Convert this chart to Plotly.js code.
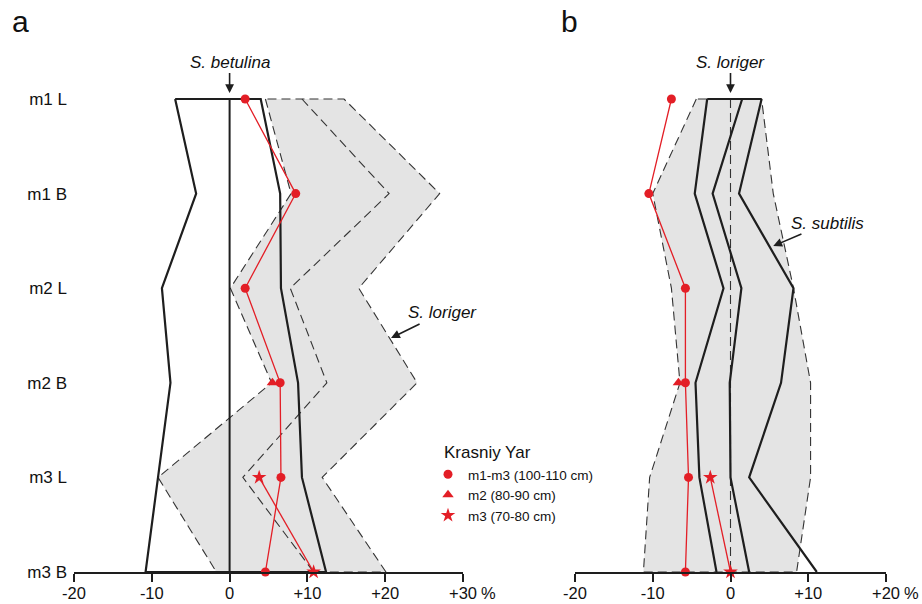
<!DOCTYPE html>
<html>
<head>
<meta charset="utf-8">
<script src="https://cdn.plot.ly/plotly-3.0.1.min.js"></script>
<style>html,body{margin:0;padding:0;background:#fff;}#chart{width:922px;height:604px;}</style>
</head>
<body>
<div id="chart"></div>
<script>
// Row categories (top to bottom)
var rows = ['m1 L', 'm1 B', 'm2 L', 'm2 B', 'm3 L', 'm3 B'];
var rowOrder = ['m3 B', 'm3 L', 'm2 B', 'm2 L', 'm1 B', 'm1 L'];

// Panel a: S. betulina (solid outline, standard = 0)
var betLeft  = [-7.0, -4.3, -8.7, -7.6, -9.2, -10.8];
var betMean  = [0, 0, 0, 0, 0, 0];
var betRight = [4.0, 6.5, 6.6, 8.8, 9.3, 12.4];
// Panel a: S. loriger (dashed, shaded)
var lorLeftA  = [4.6, 7.9, 0.1, 5.4, -9.2, -1.7];
var lorMeanA  = [9.3, 20.5, 7.8, 12.5, 1.7, 10.8];
var lorRightA = [14.7, 27.0, 16.6, 24.1, 11.9, 20.1];
// Panel a: Krasniy Yar
var circA = [2.0, 8.5, 2.0, 6.5, 6.6, 4.6];
var triRows = ['m2 B'];
var triA = [5.5];
var starRows = ['m3 L', 'm3 B'];
var starA = [3.8, 10.8];

// Panel b: S. loriger (dashed, shaded, standard = 0)
var lorLeftB  = [-4.4, -10.0, -7.6, -6.5, -10.4, -11.2];
var lorMeanB  = [0, 0, 0, 0, 0, 0];
var lorRightB = [4.0, 5.5, 8.1, 10.3, 10.3, 8.5];
// Panel b: S. subtilis (solid)
var subLeft  = [-3.0, -4.6, -0.9, -4.5, -4.0, -1.8];
var subMean  = [1.5, -2.3, 1.4, -0.1, 0.0, 2.4];
var subRight = [4.0, 1.1, 8.1, 6.5, 2.4, 11.1];
// Panel b: Krasniy Yar
var circB = [-7.6, -10.5, -5.8, -5.8, -5.4, -5.8];
var triB = [-6.7];
var starB = [-2.6, 0.0];

// Tick labels
var tickValsA = [-20, -10, 0, 10, 20, 30];
var tickTextA = ['-20', '-10', '0', '+10', '+20', '+30'];
var tickValsB = [-20, -10, 0, 10, 20];
var tickTextB = ['-20', '-10', '0', '+10', '+20'];

var RED = '#e31e26';
var BLACK = '#1e1e1e';
var GREY = '#e4e4e4';
var FONT = 'Liberation Sans, Arial, sans-serif';

function band(left, right) {
  return {
    x: left.concat(right.slice().reverse()).concat([left[0]]),
    y: rows.concat(rows.slice().reverse()).concat([rows[0]])
  };
}

var traces = [];
function add(t) { t.hoverinfo = 'skip'; t.cliponaxis = false; traces.push(t); }

// Shaded loriger bands
var bA = band(lorLeftA, lorRightA);
add({x: bA.x, y: bA.y, xaxis: 'x', yaxis: 'y', mode: 'lines', fill: 'toself', fillcolor: GREY,
     line: {color: '#333', width: 1.1, dash: '9px,5px'}, showlegend: false});
var bB = band(lorLeftB, lorRightB);
add({x: bB.x, y: bB.y, xaxis: 'x2', yaxis: 'y2', mode: 'lines', fill: 'toself', fillcolor: GREY,
     line: {color: '#333', width: 1.1, dash: '9px,5px'}, showlegend: false});
// Dashed means
add({x: lorMeanA, y: rows, xaxis: 'x', yaxis: 'y', mode: 'lines',
     line: {color: '#333', width: 1.1, dash: '9px,5px'}, showlegend: false});
add({x: lorMeanB, y: rows, xaxis: 'x2', yaxis: 'y2', mode: 'lines',
     line: {color: '#333', width: 1.1, dash: '9px,5px'}, showlegend: false});
// Solid outlines
var oA = band(betLeft, betRight);
add({x: oA.x, y: oA.y, xaxis: 'x', yaxis: 'y', mode: 'lines',
     line: {color: BLACK, width: 2.2}, showlegend: false});
add({x: betMean, y: rows, xaxis: 'x', yaxis: 'y', mode: 'lines',
     line: {color: BLACK, width: 2}, showlegend: false});
add({x: subLeft, y: rows, xaxis: 'x2', yaxis: 'y2', mode: 'lines',
     line: {color: BLACK, width: 2.2}, showlegend: false});
add({x: subRight, y: rows, xaxis: 'x2', yaxis: 'y2', mode: 'lines',
     line: {color: BLACK, width: 2.2}, showlegend: false});
add({x: [subLeft[0], subRight[0]], y: [rows[0], rows[0]], xaxis: 'x2', yaxis: 'y2', mode: 'lines',
     line: {color: BLACK, width: 2.2}, showlegend: false});
add({x: subMean, y: rows, xaxis: 'x2', yaxis: 'y2', mode: 'lines',
     line: {color: BLACK, width: 2.2}, showlegend: false});

// Red connecting lines
add({x: circA, y: rows, xaxis: 'x', yaxis: 'y', mode: 'lines', line: {color: RED, width: 1.3}, showlegend: false});
add({x: starA, y: starRows, xaxis: 'x', yaxis: 'y', mode: 'lines', line: {color: RED, width: 1.3}, showlegend: false});
add({x: circB, y: rows, xaxis: 'x2', yaxis: 'y2', mode: 'lines', line: {color: RED, width: 1.3}, showlegend: false});
add({x: starB, y: starRows, xaxis: 'x2', yaxis: 'y2', mode: 'lines', line: {color: RED, width: 1.3}, showlegend: false});

// Red markers (legend entries)
add({x: circA, y: rows, xaxis: 'x', yaxis: 'y', mode: 'markers', name: 'm1-m3 (100-110 cm)',
     legendgroup: 'c', marker: {color: RED, size: 9, symbol: 'circle'}});
add({x: triA, y: triRows, xaxis: 'x', yaxis: 'y', mode: 'markers', name: 'm2 (80-90 cm)',
     legendgroup: 't', marker: {color: RED, size: 10, symbol: 'triangle-up'}});
add({x: starA, y: starRows, xaxis: 'x', yaxis: 'y', mode: 'markers', name: 'm3 (70-80 cm)',
     legendgroup: 's', marker: {color: RED, size: 11, symbol: 'star'}});
add({x: circB, y: rows, xaxis: 'x2', yaxis: 'y2', mode: 'markers', legendgroup: 'c', showlegend: false,
     marker: {color: RED, size: 9, symbol: 'circle'}});
add({x: triB, y: triRows, xaxis: 'x2', yaxis: 'y2', mode: 'markers', legendgroup: 't', showlegend: false,
     marker: {color: RED, size: 10, symbol: 'triangle-up'}});
add({x: starB, y: starRows, xaxis: 'x2', yaxis: 'y2', mode: 'markers', legendgroup: 's', showlegend: false,
     marker: {color: RED, size: 11, symbol: 'star'}});

var yTop = (572 - 50) / 94.6;

var xCommon = {
  showline: true, linecolor: BLACK, linewidth: 2, ticks: 'outside', ticklen: 8, tickwidth: 2,
  tickcolor: BLACK, showgrid: false, zeroline: false, tickfont: {size: 16.5, color: '#111', family: FONT},
  ticklabelstandoff: -3, fixedrange: true
};

var layout = {
  width: 922, height: 604,
  margin: {l: 0, r: 0, t: 50, b: 32},
  paper_bgcolor: '#fff', plot_bgcolor: 'rgba(0,0,0,0)',
  font: {family: FONT, color: '#111'},
  xaxis: Object.assign({}, xCommon, {domain: [74/922, 463/922], range: [-20, 30],
         tickvals: tickValsA, ticktext: tickTextA, anchor: 'y'}),
  xaxis2: Object.assign({}, xCommon, {domain: [575/922, 886/922], range: [-20, 20],
         tickvals: tickValsB, ticktext: tickTextB, anchor: 'y2'}),
  yaxis: {type: 'category', categoryarray: rowOrder, categoryorder: 'array', range: [0, yTop],
          showline: false, showgrid: false, zeroline: false, ticks: '', anchor: 'x',
          tickfont: {size: 17, color: '#111', family: FONT}, ticklabelstandoff: 6, fixedrange: true},
  yaxis2: {type: 'category', categoryarray: rowOrder, categoryorder: 'array', range: [0, yTop],
           showline: false, showgrid: false, zeroline: false, ticks: '', showticklabels: false,
           anchor: 'x2', fixedrange: true},
  showlegend: true,
  legend: {x: 428/922, xanchor: 'left', y: (572 - 459) / 522, yanchor: 'top',
           bgcolor: 'rgba(0,0,0,0)', font: {size: 13.5, family: FONT, color: '#111'},
           itemwidth: 30, tracegroupgap: 0},
  annotations: [
    {xref: 'paper', yref: 'paper', x: 10/922, y: (572 - 22) / 522, xanchor: 'left', yanchor: 'middle',
     text: 'a', showarrow: false, font: {size: 30, family: FONT, color: '#111'}},
    {xref: 'paper', yref: 'paper', x: 559/922, y: (572 - 22) / 522, xanchor: 'left', yanchor: 'middle',
     text: 'b', showarrow: false, font: {size: 30, family: FONT, color: '#111'}},
    {xref: 'paper', yref: 'paper', x: 442/922, y: (572 - 452) / 522, xanchor: 'left', yanchor: 'middle',
     text: 'Krasniy Yar', showarrow: false, font: {size: 17, family: FONT, color: '#111'}},
    {xref: 'x', yref: 'y', x: 30, y: 0, xanchor: 'left', yanchor: 'middle', xshift: 16, yshift: -21,
     text: '%', showarrow: false, font: {size: 16.5, family: FONT, color: '#111'}},
    {xref: 'x2', yref: 'y2', x: 20, y: 0, xanchor: 'left', yanchor: 'middle', xshift: 16, yshift: -21,
     text: '%', showarrow: false, font: {size: 16.5, family: FONT, color: '#111'}},
    {xref: 'x', yref: 'y', x: 0, y: 5.063, ax: 0, ay: -31, text: '<i>S. betulina</i>',
     showarrow: true, arrowhead: 2, arrowsize: 1.1, arrowwidth: 1.6, arrowcolor: BLACK,
     font: {size: 17, family: FONT, color: '#111'}},
    {xref: 'x2', yref: 'y2', x: 0, y: 5.063, ax: 0, ay: -31, text: '<i>S. loriger</i>',
     showarrow: true, arrowhead: 2, arrowsize: 1.1, arrowwidth: 1.6, arrowcolor: BLACK,
     font: {size: 17, family: FONT, color: '#111'}},
    {xref: 'x', yref: 'y', x: 20.75, y: 2.474, ax: 51, ay: -25, text: '<i>S. loriger</i>',
     showarrow: true, arrowhead: 2, arrowsize: 1.1, arrowwidth: 1.6, arrowcolor: BLACK,
     font: {size: 17, family: FONT, color: '#111'}},
    {xref: 'x2', yref: 'y2', x: 5.5, y: 3.446, ax: 54, ay: -23, text: '<i>S. subtilis</i>',
     showarrow: true, arrowhead: 2, arrowsize: 1.1, arrowwidth: 1.6, arrowcolor: BLACK,
     font: {size: 17, family: FONT, color: '#111'}}
  ]
};

Plotly.newPlot('chart', traces, layout, {displayModeBar: false, staticPlot: true});
</script>
</body>
</html>
